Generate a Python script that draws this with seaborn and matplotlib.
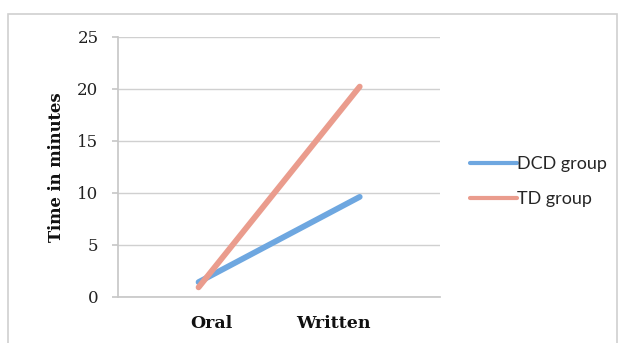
import matplotlib
matplotlib.use("Agg")
import matplotlib.pyplot as plt
from matplotlib.patches import Rectangle
import seaborn as sns
import pandas as pd

conditions = ["Oral", "Written"]
dcd_minutes = [1.4, 9.6]
td_minutes = [0.9, 20.2]
groups = ["DCD group", "TD group"]
y_ticks = [0, 5, 10, 15, 20, 25]

df = pd.DataFrame({
    "Condition": conditions * 2,
    "Minutes": dcd_minutes + td_minutes,
    "Group": [groups[0]] * 2 + [groups[1]] * 2,
})

sns.set_theme(style="white")
palette = {"DCD group": "#6EA7E0", "TD group": "#EA9C8D"}

fig = plt.figure(figsize=(6.21, 3.43), dpi=100)
ax = fig.add_axes([0.19, 0.135, 0.519, 0.758])

sns.lineplot(data=df, x="Condition", y="Minutes", hue="Group", palette=palette,
             linewidth=4.2, ax=ax, legend=False, sort=False)

ax.set_xlim(-0.5, 1.5)
ax.set_ylim(0, 25)
ax.set_yticks(y_ticks)
ax.set_yticklabels([str(t) for t in y_ticks], family="DejaVu Serif", fontsize=12,
                   color="#222222")
# category labels sit slightly inward of the line endpoints
ax.set_xticks([0.078, 0.835])
ax.set_xticklabels(conditions, family="DejaVu Serif", fontweight="bold", fontsize=12.5,
                   color="#111111")
ax.set_xlabel("")
ax.set_ylabel("Time in minutes", family="DejaVu Serif", fontweight="bold", fontsize=11.8,
              color="#111111", labelpad=9)

ax.grid(axis="y", color="#d0d0d0", linewidth=1.0)
ax.set_axisbelow(True)
for side in ["top", "right"]:
    ax.spines[side].set_visible(False)
ax.spines["left"].set_color("#c8c8c8")
ax.spines["bottom"].set_color("#c8c8c8")
ax.tick_params(axis="y", which="major", left=True, length=4, color="#c8c8c8", pad=10)
ax.tick_params(axis="x", bottom=False, pad=7)

handles = [plt.Line2D([], [], color=palette[g], linewidth=3) for g in groups]
fig.legend(handles, groups, loc="center left", bbox_to_anchor=(0.73, 0.47),
           frameon=False, handlelength=2.6, handletextpad=0.05, labelspacing=1.05,
           prop={"family": "Lato", "size": 13})

# light outer frame of the chart area
fig.patches.append(Rectangle((0.013, -0.05), 0.98, 1.01, transform=fig.transFigure,
                             fill=False, edgecolor="#d0d0d0", linewidth=1.2))

fig.savefig("out.png", dpi=100, facecolor="white")
